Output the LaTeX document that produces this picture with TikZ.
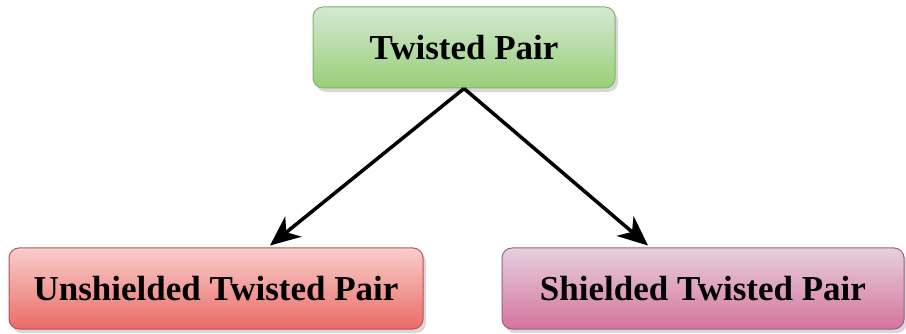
\documentclass[tikz,border=0pt]{standalone}
\usepackage{fontspec}
\setmainfont{Liberation Serif}
\usetikzlibrary{arrows.meta,shadows}
\definecolor{greentop}{HTML}{D5E8D4}
\definecolor{greenbot}{HTML}{97D077}
\definecolor{greenline}{HTML}{82B366}
\definecolor{redtop}{HTML}{F8CECC}
\definecolor{redbot}{HTML}{EA6B66}
\definecolor{redline}{HTML}{B85450}
\definecolor{pinktop}{HTML}{E6D0DE}
\definecolor{pinkbot}{HTML}{D5739D}
\definecolor{pinkline}{HTML}{996185}
\begin{document}
\begin{tikzpicture}[x=1pt,y=-1pt,
    cable/.style={rectangle,rounded corners=10pt,minimum height=81pt,line width=1pt,
      font=\bfseries\fontsize{35}{40}\selectfont,
      drop shadow={shadow xshift=3pt,shadow yshift=-4pt,fill=black!30}},
    conn/.style={line width=3.5pt,-{Stealth[length=30pt,width=26pt,inset=9pt]}}]
  \useasboundingbox (0,0) rectangle (906,334);
  \node[cable,minimum width=302pt,draw=greenline,top color=greentop,bottom color=greenbot] (tp) at (464,47.5) {Twisted Pair};
  \node[cable,minimum width=414pt,draw=redline,top color=redtop,bottom color=redbot] (ut) at (216,288.5) {Unshielded Twisted Pair};
  \node[cable,minimum width=402pt,draw=pinkline,top color=pinktop,bottom color=pinkbot] (st) at (703,288.5) {Shielded Twisted Pair};
  \draw[conn] (tp.south) -- ([xshift=54pt,yshift=2pt]ut.north);
  \draw[conn] (tp.south) -- ([xshift=-55pt,yshift=2pt]st.north);
\end{tikzpicture}
\end{document}
